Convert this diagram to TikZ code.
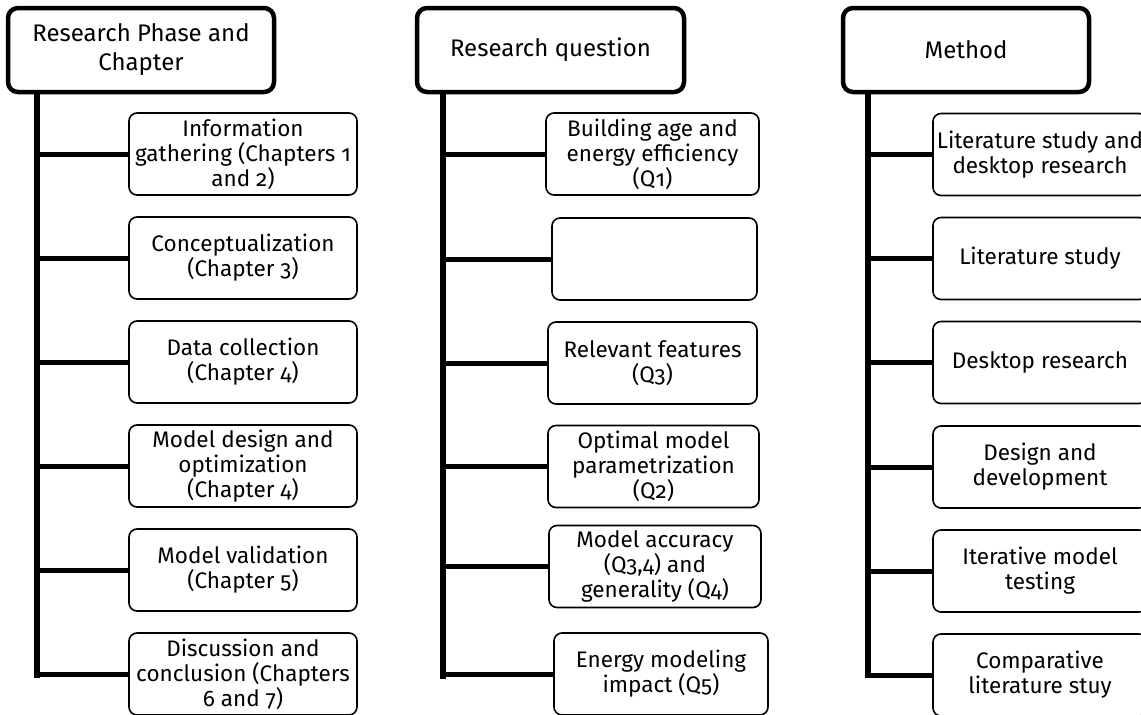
\documentclass[tikz,border=0pt]{standalone}
\usepackage{fontspec}
\setmainfont{Fira Sans}[Numbers=OldStyle]
\tikzset{
  hdr/.style={draw=black, line width=4.5pt, rounded corners=10pt, fill=white, align=center, inner sep=0pt,
    font=\fontsize{24}{29}\selectfont},
  kid/.style={draw=black, line width=1.6pt, rounded corners=8pt, fill=white, align=center, inner sep=0pt,
    minimum height=82pt, font=\fontsize{22.5}{25}\selectfont},
  trunk/.style={line width=5.5pt, line cap=rect},
  branch/.style={line width=5pt},
}
\begin{document}
\begin{tikzpicture}[x=1pt,y=-1pt]
\useasboundingbox (0,0) rectangle (1141,715);
\clip (0,0) rectangle (1141,715);
\fill[white] (0,0) rectangle (1141,715);
\coordinate (t1) at (37,675);
\coordinate (t2) at (443,676);
\coordinate (t3) at (868,675);
\node[hdr, minimum width=266pt, minimum height=84pt] (h1) at (141,50) {Research Phase and\\Chapter};
\node[hdr, minimum width=267pt, minimum height=84pt] (h2) at (550.5,50) {Research question};
\node[hdr, minimum width=246pt, minimum height=84pt] (h3) at (966,50) {Method};
\draw[trunk] (h1.south -| t1) -- (t1);
\draw[trunk] (h2.south -| t2) -- (t2);
\draw[trunk] (h3.south -| t3) -- (t3);

\node[kid, minimum width=228pt] (c11) at (243,154) {Information\\gathering (Chapters 1\\and 2)};
\node[kid, minimum width=228pt] (c12) at (243,258) {Conceptualization\\(Chapter 3)};
\node[kid, minimum width=228pt] (c13) at (243,362) {Data collection\\(Chapter 4)};
\node[kid, minimum width=228pt] (c14) at (243,466) {Model design and\\optimization\\(Chapter 4)};
\node[kid, minimum width=228pt] (c15) at (243,570) {Model validation\\(Chapter 5)};
\node[kid, minimum width=228pt] (c16) at (243,674) {Discussion and\\conclusion (Chapters\\6 and 7)};

\node[kid, minimum width=213pt] (c21) at (652.5,154) {Building age and\\energy efficiency\\(Q1)};
\node[kid, minimum width=205pt] (c22) at (654.5,259) {};
\node[kid, minimum width=209pt] (c23) at (652.5,363) {Relevant features\\(Q3)};
\node[kid, minimum width=211pt] (c24) at (653.5,466.5) {Optimal model\\parametrization\\(Q2)};
\node[kid, minimum width=212pt] (c25) at (655,566.5) {Model accuracy\\(Q3,4) and\\generality (Q4)};
\node[kid, minimum width=214pt] (c26) at (661,674) {Energy modeling\\impact (Q5)};

\node[kid, minimum width=214pt] (c31) at (1040,154.5) {Literature study and\\desktop research};
\node[kid, minimum width=214pt] (c32) at (1040,258.5) {Literature study};
\node[kid, minimum width=214pt] (c33) at (1040,362.5) {Desktop research};
\node[kid, minimum width=214pt] (c34) at (1040,467) {Design and\\development};
\node[kid, minimum width=214pt] (c35) at (1040,571) {Iterative model\\testing};
\node[kid, minimum width=214pt] (c36) at (1040,675) {Comparative\\literature stuy};

\foreach \c in {c11,c12,c13,c14,c15,c16} \draw[branch] (\c.west -| t1) -- (\c.west);
\foreach \c in {c21,c22,c23,c24,c25,c26} \draw[branch] (\c.west -| t2) -- (\c.west);
\foreach \c in {c31,c32,c33,c34,c35,c36} \draw[branch] (\c.west -| t3) -- (\c.west);
\end{tikzpicture}
\end{document}
